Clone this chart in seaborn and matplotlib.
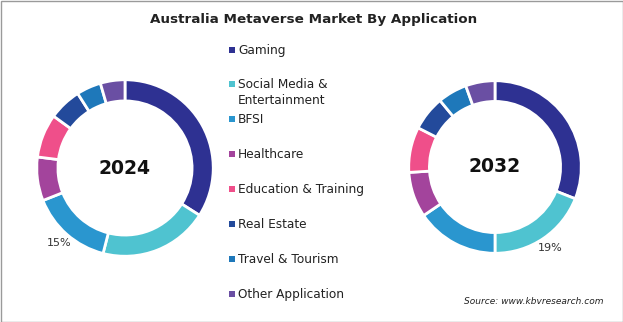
import matplotlib
matplotlib.use("Agg")
import matplotlib.pyplot as plt
from matplotlib.patches import Rectangle
import numpy as np
import seaborn as sns

sns.set_theme(style="white")
plt.rcParams['font.family'] = ['DejaVu Sans']

categories = ["Gaming", "Social Media &\nEntertainment", "BFSI", "Healthcare",
              "Education & Training", "Real Estate", "Travel & Tourism", "Other Application"]
values_2024 = [34, 20, 15, 8, 8, 6, 4.5, 4.5]
values_2032 = [31, 19, 15.5, 8.5, 8.5, 6.5, 5.5, 5.5]
colors = ["#2e3192", "#4fc3d0", "#2a96cf", "#a3449c", "#ef4f8a", "#234a9b", "#1e78ba", "#6a4fa3"]
years = ["2024", "2032"]
label_2024 = ("15%", 2)   # (text, slice index)
label_2032 = ("19%", 1)

W, H = 623, 322
fig = plt.figure(figsize=(W / 100, H / 100), dpi=100)
fig.patch.set_facecolor("white")

def px_axes(cx, cy, r):
    return fig.add_axes([(cx - r) / W, (H - cy - r) / H, 2 * r / W, 2 * r / H])

def donut(ax, vals, year, lab):
    wedges, _ = ax.pie(vals, colors=colors, startangle=90, counterclock=False,
                       radius=1.0, wedgeprops=dict(width=0.24, edgecolor="white", linewidth=2))
    ax.set_xlim(-1.02, 1.02)
    ax.set_ylim(-1.02, 1.02)
    ax.set_aspect("equal")
    ax.axis("off")
    ax.text(0, 0, year, ha="center", va="center", fontsize=13.5, fontweight="bold", color="#111111")
    txt, idx = lab
    w = wedges[idx]
    mid = np.deg2rad((w.theta1 + w.theta2) / 2)
    ax.text(1.13 * np.cos(mid), 1.13 * np.sin(mid), txt, ha="center", va="center",
            fontsize=8, color="#333333", clip_on=False)

ax1 = px_axes(125, 168, 90)
donut(ax1, values_2024, years[0], label_2024)
ax2 = px_axes(495, 167, 88)
donut(ax2, values_2032, years[1], label_2032)

# legend
ys = [50, 84, 119, 154, 189, 224, 259, 294]
for cat, col, y in zip(categories, colors, ys):
    fig.patches.append(Rectangle((229 / W, (H - y - 3) / H), 6 / W, 6 / H,
                                 transform=fig.transFigure, facecolor=col, edgecolor="none"))
    fig.text(238 / W, (H - y + 6) / H, cat, ha="left", va="top", fontsize=8.7,
             color="#222222", linespacing=1.35)

fig.text(314 / W, (H - 20) / H, "Australia Metaverse Market By Application", ha="center",
         va="center", fontsize=9.7, fontweight="bold", color="#222222")
fig.text(604 / W, (H - 301) / H, "Source: www.kbvresearch.com", ha="right", va="center",
         fontsize=6.5, style="italic", color="#222222")

fig.patches.append(Rectangle((0.5 / W, 0.5 / H), (W - 1) / W, (H - 1) / H, transform=fig.transFigure,
                             facecolor="none", edgecolor="#9a9a9a", linewidth=1))

fig.savefig("out.png", dpi=100)
